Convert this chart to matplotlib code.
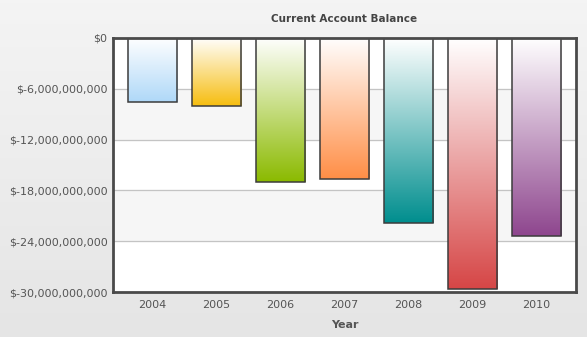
import numpy as np
import matplotlib.pyplot as plt
from matplotlib.colors import LinearSegmentedColormap, to_rgb
from matplotlib.ticker import FuncFormatter

years = ["2004", "2005", "2006", "2007", "2008", "2009", "2010"]
balance = [-7.6e9, -8.05e9, -17.05e9, -16.7e9, -21.8e9, -29.6e9, -23.4e9]
colors = ["#AFD8F8", "#F6BD0F", "#8BBA00", "#FF8E46", "#008E8E", "#D64646", "#8E468E"]
yticks = [0, -6e9, -12e9, -18e9, -24e9, -30e9]

fig = plt.figure(figsize=(5.87, 3.37), dpi=100)

# light grey background gradient
bg = fig.add_axes([0, 0, 1, 1], zorder=-10)
bg.imshow(np.linspace(0, 1, 100).reshape(-1, 1), aspect="auto", extent=[0, 1, 0, 1],
          cmap=LinearSegmentedColormap.from_list("bg", ["#f4f4f4", "#e5e5e5"]))
bg.axis("off")

ax = fig.add_axes([113 / 587, 45 / 337, 463 / 587, 254 / 337])
ax.set_facecolor("white")
x = np.arange(len(years))
pad = 0.617

# alternating bands
for i in range(len(yticks) - 1):
    if i % 2 == 1:
        ax.axhspan(yticks[i + 1], yticks[i], color="#f6f6f6", zorder=0)
for t in yticks[1:-1]:
    ax.axhline(t, color="#c4c4c4", lw=0.9, zorder=1)

bars = ax.bar(x, balance, width=0.78, color="none", edgecolor="#3c3c3c", lw=1.1, zorder=3)
grad = np.linspace(0, 1, 256).reshape(-1, 1)
for b, c in zip(bars, colors):
    cm = LinearSegmentedColormap.from_list("g", [to_rgb(c), (1, 1, 1)])
    x0, w = b.get_x(), b.get_width()
    y0, h = b.get_y(), b.get_height()
    im = ax.imshow(grad, aspect="auto", cmap=cm, origin="lower",
                   extent=[x0, x0 + w, y0 + h, y0], zorder=2)
    im.set_clip_path(b)
ax.set_xlim(-pad, len(years) - 1 + pad)
ax.set_ylim(-30e9, 0)

ax.set_yticks(yticks)
ax.yaxis.set_major_formatter(FuncFormatter(lambda v, p: "$0" if v == 0 else "$-{:,.0f}".format(abs(v))))
ax.set_xticks(x)
ax.set_xticklabels(years)
ax.tick_params(axis="y", length=0, labelsize=8, colors="#555555", pad=4)
ax.tick_params(axis="x", length=0, labelsize=8, colors="#555555", pad=6)
for s in ax.spines.values():
    s.set_color("#4a4a4a")
    s.set_linewidth(2)
    s.set_zorder(5)

ax.set_xlabel("Year", fontsize=8, fontweight="bold", color="#555555", labelpad=7)
fig.text(344 / 587, 1 - 19 / 337, "Current Account Balance", ha="center", va="center",
         fontsize=7.5, fontweight="bold", color="#444444")

fig.savefig("out.png", dpi=100)
